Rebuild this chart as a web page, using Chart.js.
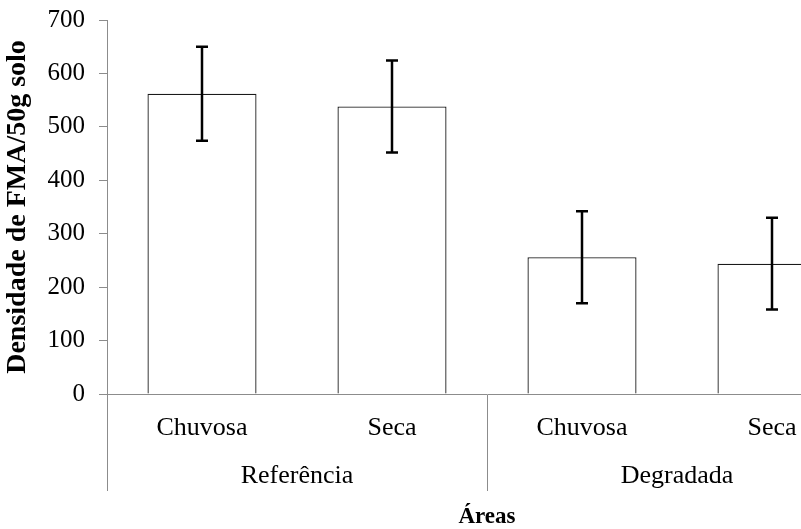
<!DOCTYPE html>
<html>
<head>
<meta charset="utf-8">
<script src="https://cdn.jsdelivr.net/npm/chart.js@4/dist/chart.umd.min.js"></script>
<style>
  html, body { margin: 0; padding: 0; background: #fff; overflow: hidden; }
  #wrap { position: relative; width: 880px; height: 529px; }
</style>
</head>
<body>
<div id="wrap"><canvas id="c"></canvas></div>
<script>
// Season per bar and the area each pair belongs to
const seasons = ['Chuvosa', 'Seca', 'Chuvosa', 'Seca'];
const areas = ['Referência', 'Degradada'];
// Mean AMF spore density (per 50 g soil) and its error
const density = [562, 538, 256, 244];
const densityError = [88, 86, 86, 86];
const yTicks = [0, 100, 200, 300, 400, 500, 600, 700];

const AXIS = '#8c8c8c';
const SERIF = "'Liberation Serif', 'Times New Roman', serif";

// Error bars with caps, drawn on top of each bar
const errorBars = {
  id: 'errorBars',
  afterDatasetsDraw(chart) {
    const ctx = chart.ctx;
    const y = chart.scales.y;
    const meta = chart.getDatasetMeta(0);
    ctx.save();
    ctx.strokeStyle = '#000';
    ctx.lineWidth = 2.5;
    meta.data.forEach((bar, i) => {
      const top = y.getPixelForValue(density[i] + densityError[i]);
      const bot = y.getPixelForValue(density[i] - densityError[i]);
      const x = bar.x;
      ctx.beginPath();
      ctx.moveTo(x, top); ctx.lineTo(x, bot);
      ctx.moveTo(x - 6, top); ctx.lineTo(x + 6, top);
      ctx.moveTo(x - 6, bot); ctx.lineTo(x + 6, bot);
      ctx.stroke();
    });
    ctx.restore();
  }
};

new Chart(document.getElementById('c'), {
  type: 'bar',
  data: {
    labels: seasons,
    datasets: [{
      data: density,
      backgroundColor: '#ffffff',
      borderColor: '#1a1a1a',
      borderWidth: 1.3,
      categoryPercentage: 1,
      barPercentage: 0.574
    }]
  },
  options: {
    responsive: true,
    maintainAspectRatio: false,
    animation: false,
    layout: { padding: { top: 20, right: 13, bottom: 0, left: 0 } },
    plugins: { legend: { display: false }, tooltip: { enabled: false } },
    scales: {
      y: {
        min: 0, max: 700,
        afterBuildTicks(scale) { scale.ticks = yTicks.map(v => ({ value: v })); },
        afterFit(scale) {
          scale.width = 107;
          scale.paddingTop = 0;
          scale.paddingBottom = 0;
        },
        border: { display: true, color: AXIS, width: 1 },
        grid: { drawOnChartArea: false, drawTicks: true, tickLength: 8, color: AXIS },
        ticks: { padding: 14, color: '#000', font: { family: SERIF, size: 25 } },
        title: {
          display: true,
          text: 'Densidade de FMA/50g solo',
          color: '#000',
          padding: { top: 1, bottom: 0 },
          font: { family: SERIF, size: 28, weight: 'bold' }
        }
      },
      x: {
        position: 'bottom',
        weight: 0,
        offset: true,
        afterFit(scale) { scale.height = 51; },
        border: { display: true, color: AXIS, width: 1 },
        grid: {
          offset: true,
          drawOnChartArea: false,
          drawTicks: true,
          tickLength: 97,
          color: (c) => (c.index % 2 === 0 ? AXIS : 'rgba(0,0,0,0)')
        },
        ticks: { padding: -78, color: '#000', maxRotation: 0, font: { family: SERIF, size: 26 } }
      },
      x2: {
        type: 'category',
        position: 'bottom',
        weight: 1,
        labels: areas,
        offset: true,
        afterFit(scale) { scale.height = 84; },
        border: { display: false },
        grid: { display: false, drawTicks: false },
        ticks: { padding: 16, color: '#000', maxRotation: 0, font: { family: SERIF, size: 26 } },
        title: {
          display: true,
          text: 'Áreas',
          color: '#000',
          padding: { top: 0, bottom: -2 },
          font: { family: SERIF, size: 23, weight: 'bold' }
        }
      }
    }
  },
  plugins: [errorBars]
});
</script>
</body>
</html>
